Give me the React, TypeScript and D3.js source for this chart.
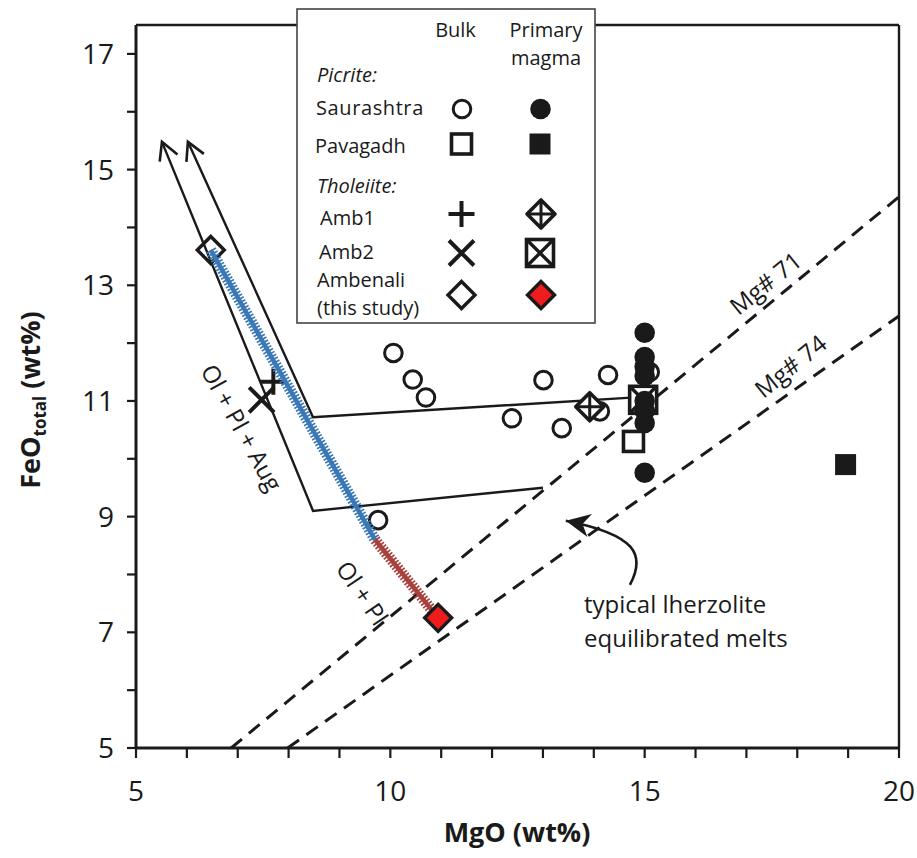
import React from "react";
import * as d3 from "d3";

// ---------- data ----------
const xTickLabels = [5, 10, 15, 20];
const yTickLabels = [5, 7, 9, 11, 13, 15, 17];

// Saurashtra picrite — bulk (open circles)
const saurashtraBulkMgO = [10.06, 10.44, 10.7, 12.39, 13.01, 13.37, 14.28, 14.12, 15.1, 9.76];
const saurashtraBulkFeO = [11.83, 11.37, 11.06, 10.7, 11.36, 10.53, 11.45, 10.82, 11.5, 8.94];
// Saurashtra picrite — primary magma (filled circles)
const saurashtraPrimMgO = [15.0, 15.0, 15.0, 15.0, 15.0, 15.0, 15.0, 15.0];
const saurashtraPrimFeO = [12.18, 11.76, 11.59, 11.43, 11.0, 10.83, 10.62, 9.76];
// Pavagadh
const pavagadhBulk = [14.78, 10.3];
const pavagadhPrim = [18.95, 9.9];
// Tholeiites
const amb1Bulk = [7.7, 11.33];
const amb1Prim = [13.92, 10.9];
const amb2Bulk = [7.47, 11.02];
const amb2Prim = [14.97, 11.02];
const ambenaliBulk = [6.47, 13.61];
const ambenaliPrim = [10.94, 7.25];

// fractionation path (blue = Ol+Pl+Aug part, red = Ol+Pl part)
const fracBlue = [[6.47, 13.61], [9.7, 8.6]];
const fracRed = [[9.7, 8.6], [10.94, 7.25]];

// liquid line of descent envelopes
const upperPath = [[6.02, 15.48], [8.48, 10.72], [14.97, 11.07]];
const lowerPath = [[5.51, 15.48], [8.48, 9.1], [13.0, 9.5]];

// Mg# lines
const mg71Line = [[6.87, 5], [20, 14.53]];
const mg74Line = [[7.98, 5], [20, 12.47]];

// annotation curve (data coords)
const annotCurve = [[14.71, 7.82], [15.03, 8.34], [14.83, 8.69], [13.45, 8.93]];

const FONT = "'Open Sans', sans-serif";
const INK = "#1a1a1a";

const x = d3.scaleLinear().domain([5, 20]).range([136, 899]);
const y = d3.scaleLinear().domain([5, 17.5]).range([748, 25]);

const line = d3.line<number[]>().x((d) => x(d[0])).y((d) => y(d[1]));

// ---------- marker components ----------
const OpenCircle = ({ cx, cy }: any) => (
  <circle cx={cx} cy={cy} r={8.8} fill="none" stroke={INK} strokeWidth={3} />
);
const FilledCircle = ({ cx, cy }: any) => <circle cx={cx} cy={cy} r={10.3} fill={INK} />;
const OpenSquare = ({ cx, cy }: any) => (
  <rect x={cx - 10} y={cy - 10} width={20} height={20} fill="#fff" stroke={INK} strokeWidth={3.6} />
);
const FilledSquare = ({ cx, cy }: any) => (
  <rect x={cx - 10.5} y={cy - 10.5} width={21} height={21} fill={INK} />
);
const Plus = ({ cx, cy }: any) => (
  <path d={`M${cx - 13},${cy}H${cx + 13}M${cx},${cy - 13}V${cy + 13}`} stroke={INK} strokeWidth={4} />
);
const Cross = ({ cx, cy }: any) => (
  <path
    d={`M${cx - 12.5},${cy - 12.5}L${cx + 12.5},${cy + 12.5}M${cx - 12.5},${cy + 12.5}L${cx + 12.5},${cy - 12.5}`}
    stroke={INK}
    strokeWidth={4}
  />
);
const DiamondPlus = ({ cx, cy }: any) => (
  <g>
    <path
      d={`M${cx},${cy - 14}L${cx + 14},${cy}L${cx},${cy + 14}L${cx - 14},${cy}Z`}
      fill="#fff"
      stroke={INK}
      strokeWidth={3.6}
      strokeLinejoin="round"
    />
    <path d={`M${cx - 14},${cy}H${cx + 14}M${cx},${cy - 14}V${cy + 14}`} stroke={INK} strokeWidth={3} />
  </g>
);
const BoxCross = ({ cx, cy }: any) => (
  <g>
    <rect x={cx - 13.5} y={cy - 13.5} width={27} height={27} fill="#fff" stroke={INK} strokeWidth={3.6} />
    <path
      d={`M${cx - 13},${cy - 13}L${cx + 13},${cy + 13}M${cx - 13},${cy + 13}L${cx + 13},${cy - 13}`}
      stroke={INK}
      strokeWidth={3.4}
    />
  </g>
);
const Diamond = ({ cx, cy, fill }: any) => (
  <path
    d={`M${cx},${cy - 13.5}L${cx + 13.5},${cy}L${cx},${cy + 13.5}L${cx - 13.5},${cy}Z`}
    fill={fill || "#fff"}
    stroke={INK}
    strokeWidth={3.4}
    strokeLinejoin="miter"
  />
);

const HatchLine = ({ pts, color }: any) => (
  <g>
    <path d={line(pts) || ""} stroke={color} strokeWidth={4.5} fill="none" />
    <path d={line(pts) || ""} stroke={color} strokeWidth={11} strokeDasharray="1.7 1.6" fill="none" />
  </g>
);

const OpenArrowHead = ({ from, to }: any) => {
  const x1 = x(from[0]), y1 = y(from[1]), x2 = x(to[0]), y2 = y(to[1]);
  const ang = Math.atan2(y1 - y2, x1 - x2);
  const L = 20, spread = 0.5;
  const ax = x2 + L * Math.cos(ang - spread), ay = y2 + L * Math.sin(ang - spread);
  const bx = x2 + L * Math.cos(ang + spread), by = y2 + L * Math.sin(ang + spread);
  return (
    <path d={`M${ax},${ay}L${x2},${y2}L${bx},${by}`} fill="none" stroke={INK} strokeWidth={2.6} />
  );
};

export default function App() {
  const yMinor = d3.range(5, 18, 1);
  const xMinor = d3.range(5, 21, 1);

  // annotation arrow
  const c = annotCurve.map((p) => [x(p[0]), y(p[1])]);
  const curveD = `M${c[0][0]},${c[0][1]}C${c[1][0]},${c[1][1]} ${c[2][0]},${c[2][1]} ${c[3][0]},${c[3][1]}`;
  const tip = c[3];
  const aAng = Math.atan2(c[2][1] - tip[1], c[2][0] - tip[0]);
  const hx = (l: number, a: number) => tip[0] + l * Math.cos(aAng + a);
  const hy = (l: number, a: number) => tip[1] + l * Math.sin(aAng + a);
  const headD = `M${tip[0]},${tip[1]}L${hx(27, 0.45)},${hy(27, 0.45)}L${hx(17, 0)},${hy(17, 0)}L${hx(27, -0.45)},${hy(27, -0.45)}Z`;

  const lgBulkX = 461.5;
  const lgPrimX = 540;

  return (
    <svg
      width={917}
      height={858}
      style={{ position: "absolute", left: 0, top: 0, background: "#fff" }}
      fontFamily={FONT}
    >
      <rect x={0} y={0} width={917} height={858} fill="#fff" />

      {/* Mg# dashed lines */}
      <path d={line(mg71Line) || ""} stroke={INK} strokeWidth={3} strokeDasharray="14 9" fill="none" />
      <path d={line(mg74Line) || ""} stroke={INK} strokeWidth={3} strokeDasharray="14 9" fill="none" />
      <text
        transform={`translate(771,290) rotate(-39)`}
        textAnchor="middle"
        fontSize={24}
        fill={INK}
      >
        Mg# 71
      </text>
      <text
        transform={`translate(796,373) rotate(-39)`}
        textAnchor="middle"
        fontSize={24}
        fill={INK}
      >
        Mg# 74
      </text>

      {/* envelopes */}
      <path d={line(upperPath) || ""} stroke={INK} strokeWidth={2.4} fill="none" strokeLinejoin="miter" />
      <path d={line(lowerPath) || ""} stroke={INK} strokeWidth={2.4} fill="none" strokeLinejoin="miter" />
      <OpenArrowHead from={upperPath[1]} to={upperPath[0]} />
      <OpenArrowHead from={lowerPath[1]} to={lowerPath[0]} />

      <text transform="translate(234,432) rotate(61)" textAnchor="middle" fontSize={24} fill={INK}>
        Ol + Pl + Aug
      </text>
      <text transform="translate(355,598) rotate(56)" textAnchor="middle" fontSize={24} fill={INK}>
        Ol + Pl
      </text>

      {/* annotation */}
      <path d={curveD} stroke={INK} strokeWidth={2.6} fill="none" />
      <path d={headD} fill={INK} />
      <text x={584} y={613} fontSize={24} fill={INK}>
        typical lherzolite
      </text>
      <text x={584} y={647} fontSize={24} fill={INK}>
        equilibrated melts
      </text>

      {/* markers */}
      {saurashtraBulkMgO.map((m, i) => (
        <OpenCircle key={"sb" + i} cx={x(m)} cy={y(saurashtraBulkFeO[i])} />
      ))}
      <Plus cx={x(amb1Bulk[0])} cy={y(amb1Bulk[1])} />
      <Cross cx={x(amb2Bulk[0])} cy={y(amb2Bulk[1])} />
      <DiamondPlus cx={x(amb1Prim[0])} cy={y(amb1Prim[1])} />
      <BoxCross cx={x(amb2Prim[0])} cy={y(amb2Prim[1])} />
      {saurashtraPrimMgO.map((m, i) => (
        <FilledCircle key={"sp" + i} cx={x(m)} cy={y(saurashtraPrimFeO[i])} />
      ))}
      <OpenSquare cx={x(pavagadhBulk[0])} cy={y(pavagadhBulk[1])} />
      <FilledSquare cx={x(pavagadhPrim[0])} cy={y(pavagadhPrim[1])} />
      <Diamond cx={x(ambenaliBulk[0])} cy={y(ambenaliBulk[1])} fill="none" />
      <HatchLine pts={fracBlue} color="#3b78b6" />
      <HatchLine pts={fracRed} color="#a8423f" />
      <Diamond cx={x(ambenaliPrim[0])} cy={y(ambenaliPrim[1])} fill="#ee1c1c" />

      {/* frame & axes */}
      <g stroke={INK} fill="none">
        <line x1={136} y1={25} x2={899} y2={25} strokeWidth={2.4} />
        <line x1={899} y1={25} x2={899} y2={748} strokeWidth={2.4} />
        <line x1={136} y1={25} x2={136} y2={749} strokeWidth={3} />
        <line x1={135} y1={748} x2={899} y2={748} strokeWidth={3} />
        {yMinor.map((v) => (
          <line key={"yt" + v} x1={127} x2={136} y1={y(v)} y2={y(v)} strokeWidth={2.2} />
        ))}
        {xMinor.map((v) => (
          <line key={"xt" + v} x1={x(v)} x2={x(v)} y1={748} y2={758} strokeWidth={2.2} />
        ))}
      </g>
      {yTickLabels.map((v) => (
        <text key={"yl" + v} x={114} y={y(v) + 10} textAnchor="end" fontSize={28} fill={INK}>
          {v}
        </text>
      ))}
      {xTickLabels.map((v) => (
        <text key={"xl" + v} x={x(v)} y={801} textAnchor="middle" fontSize={28} fill={INK}>
          {v}
        </text>
      ))}
      <text x={517} y={842} textAnchor="middle" fontSize={27} fontWeight="bold" fill={INK}>
        MgO (wt%)
      </text>
      <text transform="translate(40,400) rotate(-90)" textAnchor="middle" fontSize={27} fontWeight="bold" fill={INK}>
        FeO
        <tspan fontSize={17} dy={6}>
          total
        </tspan>
        <tspan dy={-6}> (wt%)</tspan>
      </text>

      {/* legend */}
      <rect x={297} y={9} width={298} height={314} fill="#fff" stroke="#444" strokeWidth={1.6} />
      <g fontSize={20} fill={INK}>
        <text x={lgBulkX - 6} y={37} textAnchor="middle">Bulk</text>
        <text x={lgPrimX + 6} y={37} textAnchor="middle">Primary</text>
        <text x={lgPrimX + 6} y={65} textAnchor="middle">magma</text>
        <text x={317} y={82} fontStyle="italic">Picrite:</text>
        <text x={316} y={115} letterSpacing={0.6}>Saurashtra</text>
        <text x={315} y={153}>Pavagadh</text>
        <text x={317} y={193} fontStyle="italic">Tholeiite:</text>
        <text x={320} y={225}>Amb1</text>
        <text x={319} y={259}>Amb2</text>
        <text x={317} y={287}>Ambenali</text>
        <text x={317} y={315}>(this study)</text>
      </g>
      <OpenCircle cx={lgBulkX + 0.5} cy={109} />
      <FilledCircle cx={lgPrimX + 0.5} cy={109} />
      <OpenSquare cx={lgBulkX} cy={144} />
      <FilledSquare cx={lgPrimX} cy={144} />
      <Plus cx={lgBulkX} cy={214} />
      <DiamondPlus cx={lgPrimX + 1} cy={214} />
      <Cross cx={lgBulkX} cy={253} />
      <BoxCross cx={lgPrimX} cy={253} />
      <Diamond cx={lgBulkX} cy={295} />
      <Diamond cx={lgPrimX + 1} cy={295} fill="#ee1c1c" />
    </svg>
  );
}
